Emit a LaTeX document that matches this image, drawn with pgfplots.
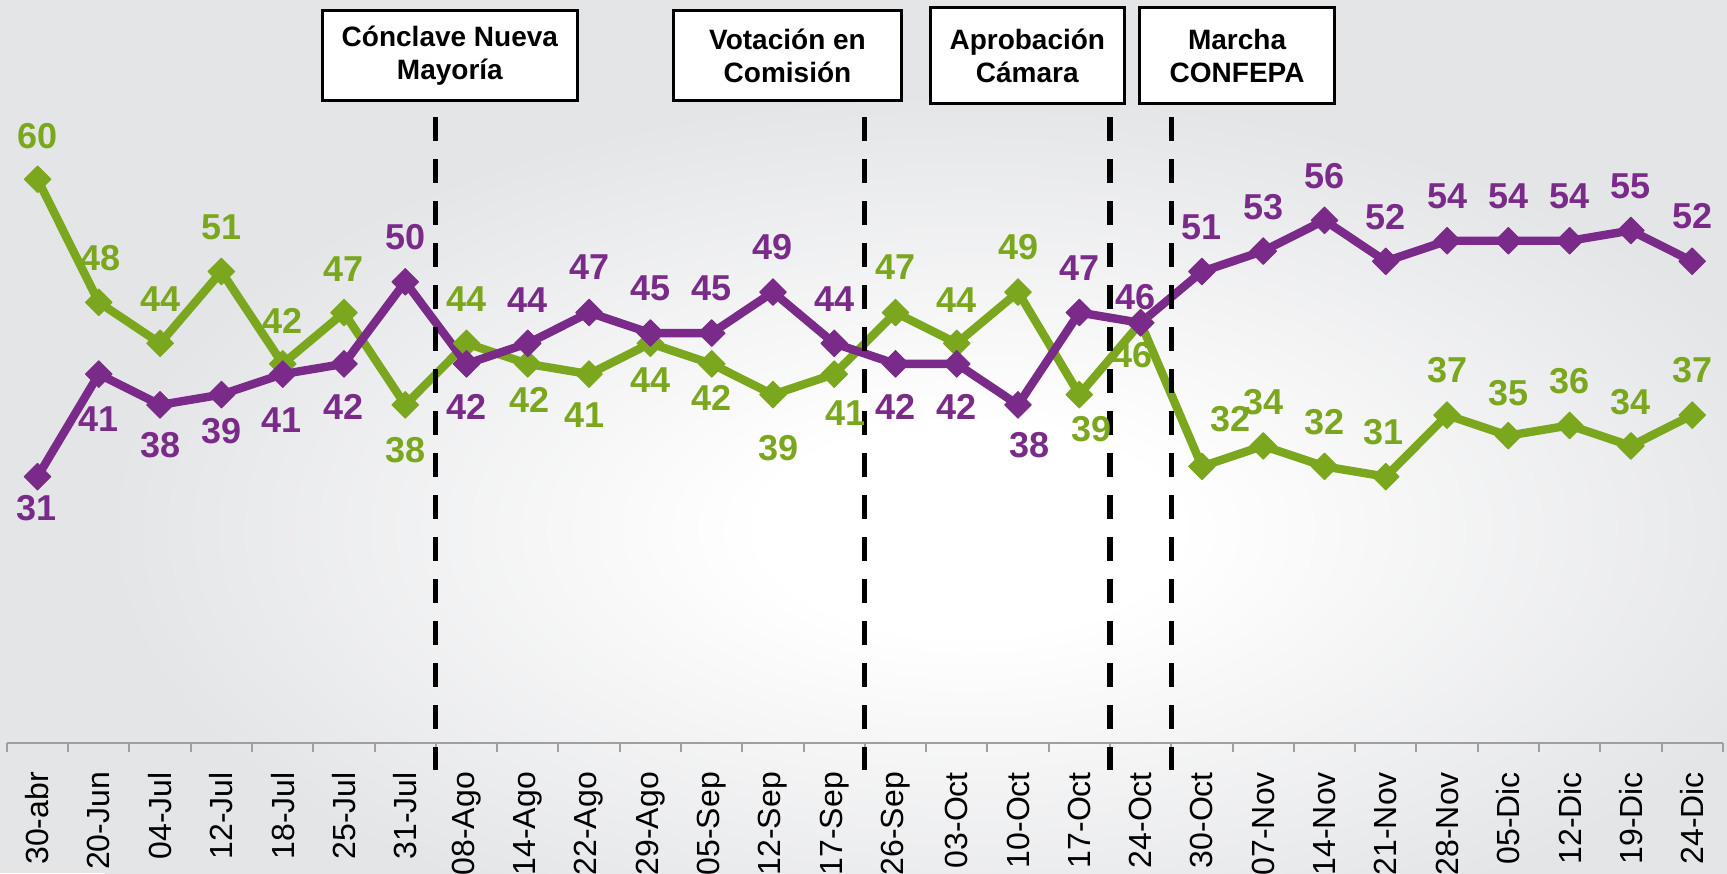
\documentclass[border=0pt]{standalone}
\usepackage{fontspec}
\setmainfont{Liberation Sans}
\usepackage{pgfplots}
\pgfplotsset{compat=1.18}
\usepackage{pgfplotstable}
\definecolor{verde}{HTML}{7BA71E}
\definecolor{morado}{HTML}{7A2A88}
\definecolor{fondo}{HTML}{E4E5E7}
\pgfdeclareradialshading{fondoradial}{\pgfpoint{0bp}{0bp}}{color(0bp)=(white); color(6bp)=(white); color(25bp)=(fondo); color(50bp)=(fondo)}
\newcommand{\lblfont}{\fontsize{18}{20}\selectfont\bfseries}

% x, etiqueta, verde (valor, dx, dy de la etiqueta), morado (valor, dx, dy)
\pgfplotstableread{
x lab g gdx gdy p pdx pdy
0 30-abr 60 0 21.8 31 -0.5 -15.8
1 20-Jun 48 0.75 22 41 0 -22.5
2 04-Jul 44 0 22 38 0 -20
3 12-Jul 51 0 22 39 0 -18.3
4 18-Jul 42 0 21.5 41 -0.5 -22.8
5 25-Jul 47 0 21.5 42 0 -21.3
6 31-Jul 38 0 -22.5 50 0 22.2
7 08-Ago 44 0 22 42 0 -21.3
8 14-Ago 42 1 -18 44 0 21.7
9 22-Ago 41 -2.5 -20.5 47 0 22.5
10 29-Ago 44 0 -18.6 45 0 22.2
11 05-Sep 42 0 -17.2 45 0 22.2
12 12-Sep 39 2.7 -27 49 0 22.7
13 17-Sep 41 5.75 -19.5 44 0 22
14 26-Sep 47 0 22.5 42 0 -21.5
15 03-Oct 44 0 21.5 42 0 -21.5
16 10-Oct 49 0 22.5 38 5.75 -20
17 17-Oct 39 6.1 -17.3 47 0 22
18 24-Oct 46 -4 -16 46 -2.5 13
19 30-Oct 32 14.5 23.5 51 0 22
20 07-Nov 34 0 22 53 0 22
21 14-Nov 32 0 22 56 0 22.3
22 21-Nov 31 -1 22.5 52 0 22
23 28-Nov 37 0 22.5 54 0 22.3
24 05-Dic 35 0 21.5 54 0 22.3
25 12-Dic 36 0 22 54 0 22.3
26 19-Dic 34 0 22 55 0 22.3
27 24-Dic 37 0 22.5 52 0 22.5
}\datos

\begin{document}
\begin{tikzpicture}
% fondo degradado
\fill[fondo] (-3.45pt,-64.85pt) rectangle (860.05pt,371.65pt);
\shade[shading=fondoradial] (49pt,-111pt) rectangle (913pt,325pt);

\begin{axis}[
    at={(0,0)}, anchor=south west,
    scale only axis,
    width=857.95pt, height=371.65pt,
    xmin=-0.5, xmax=27.5, ymin=5, ymax=77.48,
    axis x line=bottom, axis y line=none,
    x axis line style={-, draw=gray!75, line width=1pt},
    xtick={0,...,27},
    xticklabels from table={\datos}{lab},
    minor xtick={-0.5,0.5,...,27.5},
    major tick length=0pt, minor tick length=4.2pt,
    tick align=outside,
    tick style={draw=gray!75, line width=1pt},
    xticklabel shift=14.2pt,
    xticklabel style={rotate=90, anchor=east, inner sep=0pt, font=\fontsize{16}{18}\selectfont},
    clip=false,
    /pgf/number format/assume math mode=true,
    nodes near coords align={center},
]
\addplot[verde, line width=4.2pt, line join=round,
    mark=square*, mark size=4.7pt,
    mark options={rotate=45, solid, line width=0.5pt, fill=verde},
    nodes near coords,
    visualization depends on={\thisrow{gdx} \as \lx},
    visualization depends on={\thisrow{gdy} \as \ly},
    every node near coord/.append style={font=\lblfont, text=verde, anchor=center, inner sep=0pt, xshift=\lx pt, yshift=\ly pt},
] table[x=x, y=g] {\datos};

\addplot[morado, line width=4.2pt, line join=round,
    mark=square*, mark size=4.7pt,
    mark options={rotate=45, solid, line width=0.5pt, fill=morado},
    nodes near coords,
    visualization depends on={\thisrow{pdx} \as \lx},
    visualization depends on={\thisrow{pdy} \as \ly},
    every node near coord/.append style={font=\lblfont, text=morado, anchor=center, inner sep=0pt, xshift=\lx pt, yshift=\ly pt},
] table[x=x, y=p] {\datos};

% eventos
\draw[black, line width=2.6pt, dash pattern=on 12pt off 9pt] (axis cs:6.5,66.05) -- (axis cs:6.5,2.4);
\draw[black, line width=2.6pt, dash pattern=on 12pt off 9pt] (axis cs:13.5,66.05) -- (axis cs:13.5,2.4);
\draw[black, line width=2.6pt, dash pattern=on 12pt off 9pt] (axis cs:17.5,66.05) -- (axis cs:17.5,2.4);
\draw[black, line width=2.6pt, dash pattern=on 12pt off 9pt] (axis cs:18.5,66.05) -- (axis cs:18.5,2.4);
\end{axis}

\tikzset{evento/.style={draw=black, line width=1.5pt, fill=white, align=center, inner sep=0pt,
    font=\fontsize{14}{16.5}\selectfont\bfseries}}
\node[evento, minimum width=127.6pt, minimum height=45pt] at (221.5pt,343.9pt) {Cónclave Nueva\\Mayoría};
\node[evento, minimum width=114pt, minimum height=45pt] at (390.3pt,343.9pt) {Votación en\\Comisión};
\node[evento, minimum width=97.25pt, minimum height=47.75pt] at (510.2pt,343.8pt) {Aprobación\\Cámara};
\node[evento, minimum width=97.2pt, minimum height=47.75pt] at (615.1pt,343.8pt) {Marcha\\CONFEPA};

\pgfresetboundingbox
\useasboundingbox (-3.45pt,-64.85pt) rectangle (860.05pt,371.65pt);
\end{tikzpicture}
\end{document}
